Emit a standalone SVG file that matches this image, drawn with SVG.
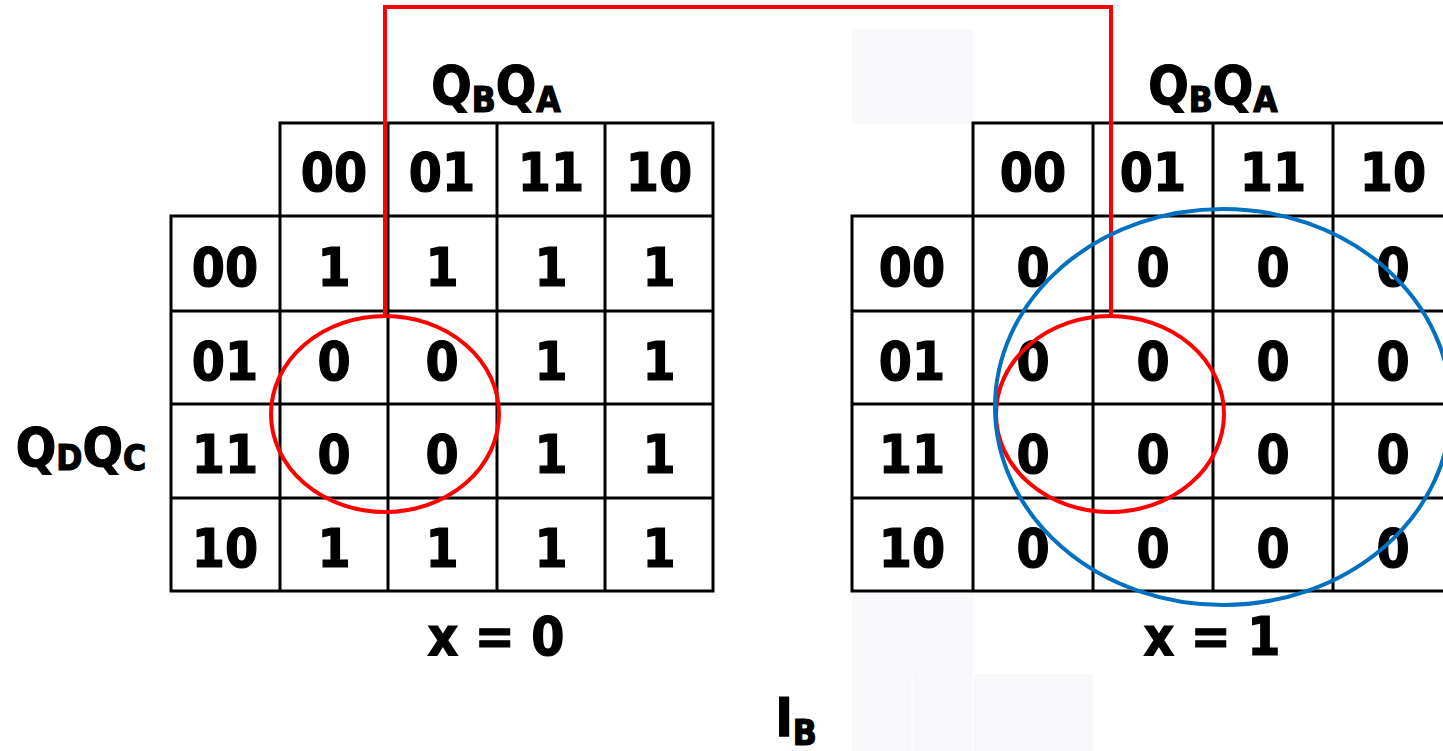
<svg xmlns="http://www.w3.org/2000/svg" width="1443" height="751" viewBox="0 0 1443 751">
<style>
.g{stroke:#000;stroke-width:3;fill:none;stroke-linecap:square}
.t{font-family:"DejaVu Sans Condensed","DejaVu Sans","Liberation Sans",sans-serif;font-stretch:condensed;font-weight:bold;font-size:53px;fill:#000;stroke:#000;stroke-width:1.2;text-anchor:middle}
.s{font-size:35px}
.bg{fill:#f8f8fa}
</style>
<rect width="1443" height="751" fill="#fff"/>
<g id="shading">
<rect class="bg" x="852" y="29" width="121" height="95"/>
<rect class="bg" x="852" y="593" width="121" height="81"/>
<rect class="bg" x="852" y="674" width="241" height="77"/>
<rect x="738" y="674" width="114" height="77" fill="#fefefe"/>
<line x1="912" y1="674" x2="912" y2="751" stroke="#fff" stroke-width="1"/>
<line x1="973" y1="674" x2="973" y2="751" stroke="#fff" stroke-width="1"/>
</g>
<g id="kmap-left">
<path class="g" d="M280,123H713M171,216H713M171,311H713M171,404H713M171,498H713M171,591H713M280,123V591M388,123V591M497,123V591M605,123V591M713,123V591M171,216V591"/>
<text class="t" x="496" y="104">Q<tspan class="s" dy="8">B</tspan><tspan dy="-8">Q</tspan><tspan class="s" dy="8">A</tspan></text>
<text class="t" x="81" y="466">Q<tspan class="s" dy="4">D</tspan><tspan dy="-4">Q</tspan><tspan class="s" dy="4">C</tspan></text>
<text class="t" x="334" y="191">00</text><text class="t" x="442" y="191">01</text><text class="t" x="551" y="191">11</text><text class="t" x="659" y="191">10</text>
<text class="t" x="225" y="286">00</text><text class="t" x="225" y="380">01</text><text class="t" x="225" y="473">11</text><text class="t" x="225" y="567">10</text>
<text class="t" x="334" y="286">1</text><text class="t" x="442" y="286">1</text><text class="t" x="551" y="286">1</text><text class="t" x="659" y="286">1</text>
<text class="t" x="334" y="380">0</text><text class="t" x="442" y="380">0</text><text class="t" x="551" y="380">1</text><text class="t" x="659" y="380">1</text>
<text class="t" x="334" y="473">0</text><text class="t" x="442" y="473">0</text><text class="t" x="551" y="473">1</text><text class="t" x="659" y="473">1</text>
<text class="t" x="334" y="567">1</text><text class="t" x="442" y="567">1</text><text class="t" x="551" y="567">1</text><text class="t" x="659" y="567">1</text>
<text class="t" x="496" y="655">x = 0</text>
</g>
<g id="kmap-right">
<path class="g" d="M973,123H1443M852,216H1443M852,311H1443M852,404H1443M852,498H1443M852,591H1443M973,123V591M1093,123V591M1213,123V591M1333,123V591M852,216V591"/>
<text class="t" x="1213" y="104">Q<tspan class="s" dy="8">B</tspan><tspan dy="-8">Q</tspan><tspan class="s" dy="8">A</tspan></text>
<text class="t" x="1033" y="191">00</text><text class="t" x="1153" y="191">01</text><text class="t" x="1273" y="191">11</text><text class="t" x="1393" y="191">10</text>
<text class="t" x="912" y="286">00</text><text class="t" x="912" y="380">01</text><text class="t" x="912" y="473">11</text><text class="t" x="912" y="567">10</text>
<text class="t" x="1033" y="286">0</text><text class="t" x="1153" y="286">0</text><text class="t" x="1273" y="286">0</text><text class="t" x="1393" y="286">0</text>
<text class="t" x="1033" y="380">0</text><text class="t" x="1153" y="380">0</text><text class="t" x="1273" y="380">0</text><text class="t" x="1393" y="380">0</text>
<text class="t" x="1033" y="473">0</text><text class="t" x="1153" y="473">0</text><text class="t" x="1273" y="473">0</text><text class="t" x="1393" y="473">0</text>
<text class="t" x="1033" y="567">0</text><text class="t" x="1153" y="567">0</text><text class="t" x="1273" y="567">0</text><text class="t" x="1393" y="567">0</text>
<text class="t" x="1212" y="655">x = 1</text>
</g>
<g id="label-ib">
<text class="t" x="796" y="736">I<tspan class="s" dy="9">B</tspan></text>
</g>
<g id="connectors">
<path d="M385,316V7H1111V316" fill="none" stroke="#ff0000" stroke-width="4"/>
<ellipse cx="385" cy="414" rx="114" ry="98" fill="none" stroke="#ff0000" stroke-width="4"/>
<ellipse cx="1110" cy="414" rx="114" ry="98" fill="none" stroke="#ff0000" stroke-width="4"/>
<ellipse cx="1223" cy="407" rx="228" ry="198" fill="none" stroke="#0070c0" stroke-width="4"/>
</g>
</svg>
